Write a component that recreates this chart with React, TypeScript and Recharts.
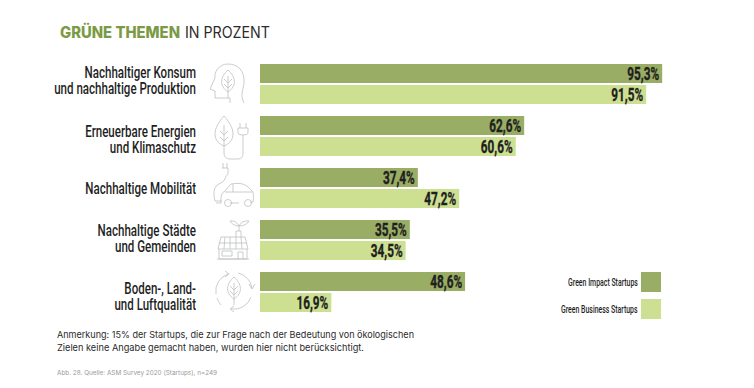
import { BarChart, Bar, XAxis, YAxis, Legend, LabelList } from 'recharts';

const categories = [
  'Nachhaltiger Konsum\nund nachhaltige Produktion',
  'Erneuerbare Energien\nund Klimaschutz',
  'Nachhaltige Mobilität',
  'Nachhaltige Städte\nund Gemeinden',
  'Boden-, Land-\nund Luftqualität',
];
const impactValues = [95.3, 62.6, 37.4, 35.5, 48.6];
const businessValues = [91.5, 60.6, 47.2, 34.5, 16.9];

const IMPACT_COLOR = '#9aad64';
const BUSINESS_COLOR = '#cde092';
const TEXT_COLOR = '#1f1f1f';
const NARROW = 'Roboto, sans-serif';

const chartData = categories.map((name, i) => ({
  name,
  impact: impactValues[i],
  business: businessValues[i],
}));

const leaf = 'M0 -13 C-8 -6 -9 3 0 9 C9 3 8 -6 0 -13Z M0 -7 V15 M0 0 L-4 -4 M0 0 L4 -4 M0 5 L-4 1 M0 5 L4 1';

const icons = [
  <g key="head">
    <path d="M14 20 C10 12 13 8 14 0 C15 -12 8 -19 -2 -19 C-12 -19 -16 -10 -15 -5 L-20 6 L-15 8 V15 H0 V20" />
    <path d={leaf} transform="translate(-2,0)" />
  </g>,
  <g key="plug">
    <path d="M-9 -19 C-21 -6 -21 6 -9 11 C3 6 3 -6 -9 -19Z M-9 -10 V18 Q-9 24 -3 24 H5 Q10 24 10 18 V0 M-9 0 L-13 -4 M-9 0 L-5 -4 M-9 6 L-13 2 M-9 6 L-5 2" />
    <path d="M5 -7 H15 V-2 Q15 0 10 0 Q5 0 5 -2Z M7 -7 V-12 M13 -7 V-12" />
  </g>,
  <g key="car">
    <path d="M-11 -20 H-5 V-14 Q-8 -11 -8 -9 M-10 -20 V-25 M-6 -20 V-25" />
    <path d="M-8 -9 Q-9 -6 -16 -3 Q-21 2 -18 13 H-11" />
    <path d="M-12 15 H-17 M-12 15 Q-13 5 -8 3 L-2 -4 Q8 -6 14 -2 L20 4 Q21 10 20 14 H17 M6 15 H-3 M0 -4 V4 M-8 4 H19" />
    <circle cx="-5" cy="15" r="3.5" />
    <circle cx="15" cy="15" r="3.5" />
  </g>,
  <g key="house">
    <path d="M-12 -3 L-15 9 H15 L12 -3Z M-14 3 H14 M-8 -3 L-9 9 M-3 -3 V9 M3 -3 V9 M8 -3 L9 9" />
    <path d="M-14 9 V19 H14 V9 M-16 19 H16 M-11 11 H-1 V16 H-11Z M5 19 V12 H10 V19" />
    <path d="M3 -3 V-9 H8 V-3 M6 -9 V-14 Q0 -14 -3 -19 Q3 -20 6 -14 Q9 -20 16 -19 Q13 -14 6 -14" />
  </g>,
  <g key="cycle">
    <path d="M-18 3 A18 18 0 0 1 -6 -17 M-9 -20 L-5 -17 L-9 -14" />
    <path d="M4 -18 A18 18 0 0 1 18 -3 M15 -7 L18 -2 L21 -7" />
    <path d="M17 6 A18 18 0 0 1 -3 18 M0 15 L-4 18 L0 21" />
    <path d="M-13 14 A18 18 0 0 1 -17 7" />
    <path d={leaf} transform="translate(0,-1)" />
  </g>,
];

const iconCenters = [230, 233, 233, 233, 234];
const iconOffsets = [-1, -1, 0, 0, -1];
// the labels are not quite centred on their bar pairs in the original
const labelOffsets = [-4, 3.5, 0.5, -1.5, 4.5];
const LINE_HEIGHT = 16.2;

function CategoryTick({ y, payload, index }: any) {
  const lines: string[] = String(payload.value).split('\n');
  const startY = y + labelOffsets[index] - ((lines.length - 1) * LINE_HEIGHT) / 2;
  return (
    <g>
      {lines.map((line, i) => (
        <text
          key={i}
          transform={`translate(196,${startY + i * LINE_HEIGHT}) scale(0.7,1)`}
          textAnchor="end"
          dominantBaseline="central"
          fill={TEXT_COLOR}
          fontFamily={NARROW}
          fontWeight={500}
          fontSize={16.5}
        >
          {line}
        </text>
      ))}
      <g
        transform={`translate(${iconCenters[index]},${y + iconOffsets[index]})`}
        fill="none"
        stroke="#bcc0c2"
        strokeWidth={0.8}
      >
        {icons[index]}
      </g>
    </g>
  );
}

function LegendContent({ payload }: any) {
  return (
    <div style={{ display: 'flex', flexDirection: 'column', gap: 7, alignItems: 'flex-end' }}>
      {(payload || []).map((entry: any) => (
        <div key={entry.value} style={{ display: 'flex', alignItems: 'center', gap: 3 }}>
          <span
            style={{
              fontFamily: NARROW,
              fontSize: 11,
              fontWeight: 500,
              color: TEXT_COLOR,
              display: 'block',
              whiteSpace: 'nowrap',
              transform: 'scaleX(0.63)',
              transformOrigin: 'right center',
            }}
          >
            {entry.value}
          </span>
          <span style={{ width: 20, height: 20, background: entry.color, display: 'block' }} />
        </div>
      ))}
    </div>
  );
}

const formatPercent = (v: any) => `${Number(v).toFixed(1).replace('.', ',')}%`;

function ValueLabel({ x, y, width, height, value }: any) {
  return (
    <text
      transform={`translate(${x + width - 3},${y + height / 2}) scale(0.62,1)`}
      textAnchor="end"
      dominantBaseline="central"
      fill={TEXT_COLOR}
      stroke={TEXT_COLOR}
      strokeWidth={0.4}
      fontFamily={NARROW}
      fontWeight={700}
      fontSize={19}
    >
      {formatPercent(value)}
    </text>
  );
}

export default function App() {
  return (
    <div style={{ position: 'absolute', left: 0, top: 0, width: 754, height: 388, background: '#fff' }}>
      <BarChart
        width={754}
        height={388}
        layout="vertical"
        data={chartData}
        margin={{ top: 58, right: 72, bottom: 70, left: 0 }}
        barSize={19}
        barGap={2}
      >
        <XAxis type="number" domain={[0, 100]} hide />
        <YAxis
          type="category"
          dataKey="name"
          width={260}
          axisLine={false}
          tickLine={false}
          interval={0}
          tick={CategoryTick}
        />
        <Legend
          layout="horizontal"
          verticalAlign="middle"
          itemSorter={null}
          content={LegendContent}
          wrapperStyle={{ position: 'absolute', left: 'auto', right: 93, top: 272, bottom: 'auto', width: 'auto' }}
        />
        <Bar dataKey="impact" name="Green Impact Startups" fill={IMPACT_COLOR} isAnimationActive={false}>
          <LabelList dataKey="impact" content={ValueLabel} />
        </Bar>
        <Bar dataKey="business" name="Green Business Startups" fill={BUSINESS_COLOR} isAnimationActive={false}>
          <LabelList dataKey="business" content={ValueLabel} />
        </Bar>
      </BarChart>
      <svg width={754} height={388} style={{ position: 'absolute', left: 0, top: 0, pointerEvents: 'none' }}>
        <text x={60} y={38} fontFamily="Inter" fontSize={15.5} fontWeight={800} fill="#7b9a45" textLength={120} lengthAdjust="spacingAndGlyphs">
          GRÜNE THEMEN
        </text>
        <text x={185} y={38} fontFamily="Inter" fontSize={15.5} fill="#2b2b2b" textLength={85} lengthAdjust="spacingAndGlyphs">
          IN PROZENT
        </text>
        <text x={57} y={338} fontFamily="Inter" fontSize={9.5} fill="#2b2b2b" textLength={357} lengthAdjust="spacingAndGlyphs">
          Anmerkung: 15% der Startups, die zur Frage nach der Bedeutung von ökologischen
        </text>
        <text x={57} y={351} fontFamily="Inter" fontSize={9.5} fill="#2b2b2b" textLength={307} lengthAdjust="spacingAndGlyphs">
          Zielen keine Angabe gemacht haben, wurden hier nicht berücksichtigt.
        </text>
        <text x={57} y={375} fontFamily="Inter" fontSize={6.5} fill="#999999" textLength={160} lengthAdjust="spacingAndGlyphs">
          Abb. 28. Quelle: ASM Survey 2020 (Startups), n=249
        </text>
      </svg>
    </div>
  );
}
